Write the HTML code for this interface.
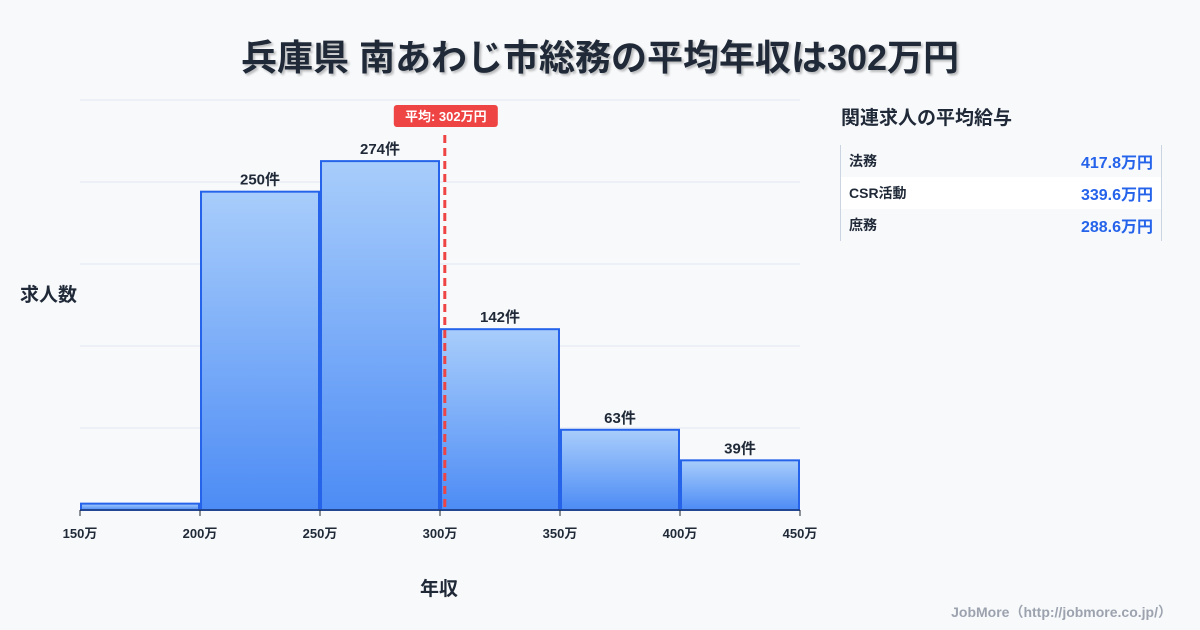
<!DOCTYPE html>
<html><head><meta charset="utf-8"><style>
body{margin:0;width:1200px;height:630px;background:#f8f9fb;font-family:"Liberation Sans","Noto Sans CJK JP",sans-serif;overflow:hidden;position:relative}
.t{position:absolute;font-weight:bold;color:#1f2937}
</style></head><body>
<div class="t" style="left:0;width:1200px;top:29px;text-align:center;font-size:36px;text-shadow:2px 2px 2px rgba(0,0,0,0.25)">兵庫県 南あわじ市総務の平均年収は302万円</div>
<svg id="c" width="1200" height="630" style="position:absolute;left:0;top:0">
<defs><linearGradient id="g" x1="0" y1="0" x2="0" y2="1"><stop offset="0" stop-color="#a8cdfb"/><stop offset="1" stop-color="#4d8cf5"/></linearGradient></defs>
</svg>
<div class="t" style="left:20px;top:280px;font-size:19px">求人数</div>
<div class="t" style="left:420px;top:574px;font-size:19px">年収</div>
<div class="t" style="left:841px;top:103px;font-size:19px">関連求人の平均給与</div>
<div style="position:absolute;left:840px;top:145px;width:320px;height:96px;border-left:1px solid #cbd5e1;border-right:1px solid #cbd5e1;font-size:14px;font-weight:bold;color:#1f2937">
<div style="height:32px;display:flex;justify-content:space-between;align-items:center;padding:0 8px 0 8px"><span>法務</span><span style="color:#2563eb;font-size:16px">417.8万円</span></div>
<div style="height:32px;display:flex;justify-content:space-between;align-items:center;padding:0 8px;background:#fff"><span>CSR活動</span><span style="color:#2563eb;font-size:16px">339.6万円</span></div>
<div style="height:32px;display:flex;justify-content:space-between;align-items:center;padding:0 8px"><span>庶務</span><span style="color:#2563eb;font-size:16px">288.6万円</span></div>
</div>
<div style="position:absolute;right:28px;top:602px;font-size:14px;font-weight:bold;color:#9ca3af">JobMore（http://jobmore.co.jp/）</div>
<script>
const binStarts=[150,200,250,300,350,400];
const counts=[5,250,274,142,63,39];
const labels=["","250件","274件","142件","63件","39件"];
const xTicks=[150,200,250,300,350,400,450];
const meanValue=302;
const yMax=322;
const svg=document.getElementById('c');
const NS='http://www.w3.org/2000/svg';
const x=v=>80+(v-150)*120/50;
const y=v=>510-v*410/yMax;
function mk(t,a){const e=document.createElementNS(NS,t);for(const k in a)e.setAttribute(k,a[k]);svg.appendChild(e);return e;}
for(let i=0;i<=5;i++){const g=mk('line',{x1:80,x2:800,y1:510-i*82,y2:510-i*82,stroke:'#e2e8f0','stroke-width':1});

}
counts.forEach((c,i)=>{
const x0=x(binStarts[i]),x1=x(binStarts[i]+50);
const r=mk('rect',{x:x0+1,y:y(c),width:x1-x0-2,height:510-y(c),fill:'url(#g)',stroke:'#2563eb','stroke-width':2});


if(labels[i]){const t=mk('text',{x:(x0+x1)/2,y:y(c)-7,'text-anchor':'middle','font-size':15,'font-weight':'bold',fill:'#1f2937'});t.textContent=labels[i];

}
});
mk('line',{x1:80,x2:800,y1:510,y2:510,stroke:'#1f2937','stroke-width':1});
xTicks.forEach(v=>{
mk('line',{x1:x(v),x2:x(v),y1:510,y2:516,stroke:'#1f2937'});
const t=mk('text',{x:x(v),y:538,'text-anchor':'middle','font-size':13,'font-weight':'bold',fill:'#1f2937'});t.textContent=v+'万';


});
const mx=x(meanValue);
const ml=mk('line',{x1:mx,x2:mx,y1:135,y2:512,stroke:'#ef4444','stroke-width':3,'stroke-dasharray':'8,5'});


const mb=mk('rect',{x:mx-51,y:105,width:104,height:22,rx:3,fill:'#ef4444'});


const mt=mk('text',{x:mx+1,y:121,'text-anchor':'middle','font-size':13,'font-weight':'bold',fill:'#fff'});mt.textContent='平均: '+meanValue+'万円';


</script>
</body></html>
